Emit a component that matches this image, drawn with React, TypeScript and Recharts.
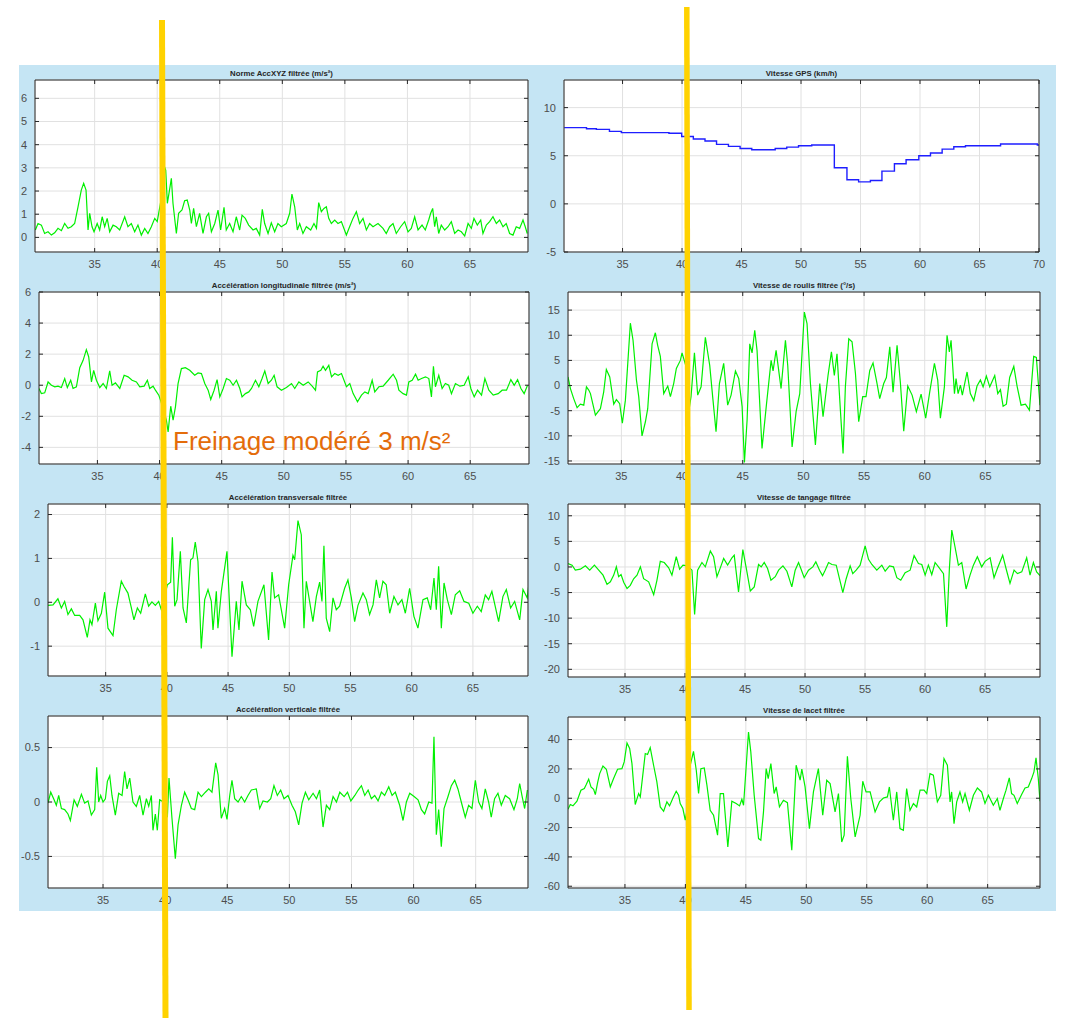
import React from 'react';
import { LineChart, Line, XAxis, YAxis, CartesianGrid } from 'recharts';

type Pt = [number, number];

// ---------- tick labels ----------
const xTicks = [35, 40, 45, 50, 55, 60, 65];
const xTicksGps = [35, 40, 45, 50, 55, 60, 65, 70];
const yTicksNorme = [0, 1, 2, 3, 4, 5, 6];
const yTicksGps = [-5, 0, 5, 10];
const yTicksLong = [-4, -2, 0, 2, 4, 6];
const yTicksRoulis = [-15, -10, -5, 0, 5, 10, 15];
const yTicksTrans = [-1, 0, 1, 2];
const yTicksTangage = [-20, -15, -10, -5, 0, 5, 10];
const yTicksVert = [-0.5, 0, 0.5];
const yTicksLacet = [-60, -40, -20, 0, 20, 40];

// ---------- series (time s, value) ----------
const normeAcc: Pt[] = [
  [30.26, 0.32], [30.47, 0.6], [30.74, 0.53], [31.0, 0.17], [31.27, 0.24], [31.54, 0.1], [31.8, 0.2], [32.07, 0.39],
  [32.34, 0.29], [32.6, 0.6], [32.87, 0.39], [33.13, 0.46], [33.4, 0.6], [33.67, 1.32], [33.93, 2.04], [34.12, 2.33],
  [34.31, 2.04], [34.47, 0.32], [34.6, 1.04], [34.79, 0.46], [34.95, 0.24], [35.2, 0.6], [35.4, 0.32], [35.6, 0.89],
  [35.8, 0.46], [36.0, 0.82], [36.2, 0.24], [36.47, 0.53], [36.73, 0.46], [37.0, 0.32], [37.4, 0.89], [37.66, 0.46],
  [37.93, 0.6], [38.2, 0.24], [38.46, 0.53], [38.73, 0.1], [39.0, 0.39], [39.26, 0.17], [39.53, 0.46], [39.8, 0.82],
  [40.0, 0.68], [40.3, 1.6], [40.54, 3.12], [40.68, 2.9], [40.81, 1.47], [40.94, 1.9], [41.13, 2.55], [41.26, 1.47],
  [41.53, 0.17], [41.71, 1.04], [41.98, 1.18], [42.19, 1.58], [42.4, 1.61], [42.6, 1.18], [42.73, 0.6], [42.91, 1.25],
  [43.13, 0.46], [43.39, 1.04], [43.66, 0.17], [43.93, 0.89], [44.11, 1.04], [44.33, 0.24], [44.6, 0.6], [44.86, 1.18],
  [45.07, 0.32], [45.34, 1.3], [45.52, 0.32], [45.79, 0.6], [46.06, 0.24], [46.32, 0.89], [46.59, 0.32], [46.78, 0.96],
  [47.04, 0.82], [47.31, 0.53], [47.66, 0.32], [47.92, 0.39], [48.19, 0.1], [48.4, 1.21], [48.59, 0.6], [48.86, 0.17],
  [49.12, 0.63], [49.39, 0.24], [49.65, 0.6], [49.92, 0.46], [50.32, 0.6], [50.59, 1.04], [50.77, 1.87], [50.99, 1.32],
  [51.2, 0.32], [51.39, 0.6], [51.65, 0.17], [51.92, 0.46], [52.27, 0.32], [52.53, 0.6], [52.73, 0.39], [52.91, 1.5],
  [53.12, 1.11], [53.33, 1.25], [53.52, 1.32], [53.71, 0.82], [53.92, 0.6], [54.19, 0.75], [54.45, 0.6], [54.72, 0.68],
  [55.12, 0.1], [55.38, 0.46], [55.65, 0.82], [55.92, 1.11], [56.18, 0.6], [56.45, 0.82], [56.72, 0.32], [56.98, 0.6],
  [57.25, 0.46], [57.65, 0.6], [58.05, 0.39], [58.31, 0.17], [58.58, 0.46], [58.85, 0.6], [59.11, 0.17], [59.46, 0.46],
  [59.78, 0.68], [60.05, 0.24], [60.31, 0.39], [60.58, 0.89], [60.85, 0.32], [61.17, 0.53], [61.43, 0.32], [61.7, 0.75],
  [61.86, 1.04], [62.02, 1.25], [62.18, 0.46], [62.31, 0.89], [62.5, 0.17], [62.71, 0.53], [62.98, 0.32], [63.25, 0.46],
  [63.51, 0.68], [63.78, 0.17], [64.05, 0.32], [64.31, 0.24], [64.58, 0.06], [64.85, 0.6], [65.11, 0.39], [65.32, 0.82],
  [65.59, 0.53], [65.86, 0.75], [66.04, 0.17], [66.31, 0.53], [66.57, 0.68], [66.84, 0.89], [67.11, 0.6], [67.37, 0.75],
  [67.64, 0.46], [67.9, 0.6], [68.17, 0.17], [68.44, 0.1], [68.7, 0.46], [68.97, 0.39], [69.24, 0.75], [69.42, 0.46],
  [69.58, 0.17],
];

const vitesseGps: Pt[] = [
  [30.1, 7.92], [31.97, 7.81], [32.8, 7.74], [33.9, 7.53], [34.9, 7.4], [38.9, 7.33], [39.97, 7.0], [40.95, 6.74],
  [41.93, 6.53], [42.9, 6.18], [43.9, 5.97], [44.88, 5.76], [45.86, 5.63], [47.83, 5.76], [48.8, 5.9], [49.79, 6.04],
  [50.9, 6.11], [52.8, 3.75], [53.86, 2.5], [54.84, 2.29], [55.83, 2.43], [56.8, 3.4], [57.85, 4.17], [58.83, 4.58],
  [59.9, 5.0], [60.88, 5.28], [61.86, 5.69], [62.84, 5.94], [63.82, 6.04], [66.77, 6.22], [69.86, 6.11], [70.0, 6.11],
];

const accLong: Pt[] = [
  [30.3, -0.21], [30.49, -0.54], [30.76, -0.49], [31.03, 0.21], [31.3, 0], [31.57, -0.1], [31.83, -0.06], [32.1, -0.15],
  [32.37, 0.43], [32.58, -0.15], [32.85, 0.32], [33.04, -0.21], [33.31, -0.1], [33.58, 1.13], [33.85, 1.6], [34.11, 2.29],
  [34.3, 1.82], [34.52, 0.21], [34.7, 0.96], [34.92, 0.32], [35.19, -0.15], [35.46, 0.11], [35.72, -0.21], [35.99, 0.92],
  [36.18, 0], [36.45, 0.15], [36.8, -0.21], [37.15, 0.64], [37.47, 0.54], [37.79, 0.32], [38.14, 0.21], [38.41, -0.1],
  [38.76, -0.06], [39.02, 0.32], [39.21, -0.21], [39.48, -0.06], [39.67, -0.32], [39.94, -0.64], [40.3, -1.5],
  [40.55, -2.25], [40.69, -3.0], [40.9, -1.35], [41.09, -2.25], [41.28, -1.39], [41.49, 0.11], [41.76, 1.07],
  [42.08, 1.13], [42.43, 0.96], [42.83, 0.64], [43.1, 0.79], [43.37, 0.75], [43.64, 0.11], [43.91, -0.32], [44.12, -0.92],
  [44.39, -0.32], [44.63, 0.36], [44.85, -0.75], [45.12, -0.21], [45.38, 0.43], [45.65, 0.32], [45.92, 0], [46.19, 0.32],
  [46.46, -0.21], [46.64, -0.75], [46.91, -0.54], [47.18, -0.43], [47.4, -0.21], [47.72, 0.32], [47.99, -0.1], [48.25, 0.43],
  [48.47, 0.92], [48.74, 0.11], [49.0, 0.32], [49.22, 0.64], [49.46, -0.1], [49.81, -0.32], [50.21, -0.15], [50.62, 0.11],
  [50.88, -0.21], [51.21, 0.21], [51.56, 0], [51.96, 0.21], [52.28, -0.06], [52.55, -0.32], [52.71, 0.86], [52.98, 0.96],
  [53.16, 1.22], [53.35, 0.96], [53.62, 1.28], [53.84, 0.54], [54.1, 0.75], [54.37, 0.64], [54.64, 0.75], [55.04, -0.1],
  [55.31, 0.11], [55.58, -0.54], [55.93, -1.07], [56.25, -0.64], [56.52, -0.43], [56.79, -0.54], [57.11, 0.32], [57.32, -0.43],
  [57.65, -0.1], [57.99, -0.06], [58.4, 0.32], [58.8, 0.71], [59.07, 0.32], [59.26, -0.32], [59.6, -0.54], [59.87, -0.64],
  [60.06, 0.21], [60.33, 0.32], [60.6, 0.71], [60.81, 0.32], [61.08, 0.43], [61.4, 0.54], [61.67, 0.43], [61.88, -0.75],
  [62.04, 1.22], [62.2, -0.1], [62.47, 0.64], [62.74, -0.21], [63.0, 0.11], [63.27, 0], [63.49, -0.54], [63.81, 0.11],
  [64.17, -0.06], [64.51, 0], [64.84, 0.54], [65.05, -0.21], [65.32, -0.75], [65.59, -0.32], [65.91, -0.64], [66.18, 0.43],
  [66.5, -0.32], [66.85, -0.64], [67.25, -0.54], [67.57, -0.32], [67.92, -0.32], [68.27, 0.36], [68.54, 0], [68.81, 0.36],
  [69.08, -0.21], [69.34, -0.54], [69.61, 0],
];

const roulis: Pt[] = [
  [30.6, 1.7], [30.8, -0.6], [31.07, -2.6], [31.35, -4.4], [31.62, -3.7], [31.9, -3.9], [32.12, -0.26], [32.31, -0.9],
  [32.45, -1.6], [32.86, -5.9], [33.27, -4.6], [33.54, -1.3], [33.76, 3.2], [34.04, 1.7], [34.37, -3.7], [34.59, -2.8],
  [34.86, -3.6], [35.08, -7.5], [35.33, -2.9], [35.74, 12.4], [35.96, 9.0], [36.24, 1.1], [36.43, -2.2], [36.7, -10.0],
  [36.98, -7.2], [37.17, -4.6], [37.53, 8.3], [37.8, 10.5], [37.99, 8.0], [38.21, 5.8], [38.49, -1.6], [38.82, -0.1],
  [39.04, -2.2], [39.31, 0.4], [39.53, 3.4], [39.86, 5.0], [40.0, 6.5], [40.3, 4.0], [40.5, -6.0], [40.74, -2.2],
  [41.02, 6.5], [41.29, -1.9], [41.57, -0.26], [41.92, 9.6], [42.28, 4.0], [42.55, -2.9], [42.8, -9.2], [43.08, 0.4],
  [43.43, 4.4], [43.76, -3.9], [44.04, -1.9], [44.4, 2.9], [44.67, 1.4], [44.95, -4.2], [45.14, -15.3], [45.36, -6.9],
  [45.58, 8.3], [45.77, 6.5], [45.99, 11.0], [46.18, 7.0], [46.59, -12.5], [46.95, -3.9], [47.34, 5.0], [47.5, 2.9],
  [47.75, 7.0], [48.16, -0.6], [48.52, 9.0], [48.71, 4.0], [49.07, -12.2], [49.4, -5.2], [49.7, -1.6], [50.08, 14.6],
  [50.3, 12.3], [50.58, 0.4], [50.99, -11.8], [51.35, 0.4], [51.62, -6.2], [52.03, 2.0], [52.31, 6.7], [52.55, 2.0],
  [52.77, 6.3], [53.05, -4.9], [53.27, -13.5], [53.46, -0.26], [53.74, 9.3], [54.01, 8.7], [54.29, 2.4], [54.56, -7.2],
  [54.89, -2.2], [55.16, -2.2], [55.47, 3.0], [55.74, 4.5], [56.07, 0.4], [56.29, -2.6], [56.62, 0.4], [56.84, 1.6],
  [57.12, 7.7], [57.39, -1.3], [57.72, 8.0], [57.99, 0.7], [58.27, -9.1], [58.6, -0.1], [58.96, -1.9], [59.31, -5.2],
  [59.7, -1.7], [60.08, -6.5], [60.41, -1.3], [60.8, 4.4], [61.07, 1.1], [61.29, -6.5], [61.62, -0.26], [61.84, 10.0],
  [62.03, 6.7], [62.17, 9.0], [62.45, -1.6], [62.58, 1.4], [62.75, -1.6], [62.94, 0.07], [63.1, -1.9], [63.49, 2.7],
  [63.76, -1.6], [64.04, -3.0], [64.31, -0.1], [64.59, 1.1], [64.81, -0.26], [65.08, 1.9], [65.36, -0.26], [65.77, 2.0],
  [66.02, -1.6], [66.24, -0.8], [66.46, -4.1], [66.73, -3.7], [67.0, 1.6], [67.34, 3.8], [67.61, -0.1], [67.94, -3.9],
  [68.3, -3.7], [68.63, -4.9], [68.98, 5.8], [69.2, 5.6], [69.5, -3.9],
];

const accTrans: Pt[] = [
  [30.29, -0.07], [30.7, -0.06], [31.1, 0.08], [31.38, -0.13], [31.65, 0.02], [31.92, -0.28], [32.2, -0.15], [32.47, -0.3],
  [32.88, -0.3], [33.15, -0.4], [33.5, -0.8], [33.72, -0.4], [33.88, -0.51], [34.16, -0.02], [34.37, -0.42], [34.65, -0.25],
  [34.92, 0.23], [35.19, -0.59], [35.6, -0.76], [35.87, -0.17], [36.28, 0.48], [36.5, 0.36], [36.82, 0.21], [37.1, -0.13],
  [37.31, -0.4], [37.59, -0.13], [37.86, -0.25], [38.24, 0.19], [38.51, -0.09], [38.78, 0.01], [39.06, -0.07], [39.33, 0.02],
  [39.55, -0.17], [39.8, 0.1], [40.04, 0.4], [40.31, 0.46], [40.45, 1.48], [40.64, -0.09], [40.83, 0.06], [41.1, 1.16],
  [41.32, -0.13], [41.59, -0.47], [41.94, 0.97], [42.13, 1.01], [42.32, 1.37], [42.54, 0.93], [42.81, -1.05], [43.09, 0.06],
  [43.36, 0.29], [43.63, 0.02], [43.77, -0.63], [44.04, 0.25], [44.17, -0.59], [44.45, 0.25], [44.91, 1.16], [45.32, -1.24],
  [45.67, 0.02], [45.89, -0.63], [46.14, 0.48], [46.49, -0.06], [46.82, -0.17], [47.09, -0.55], [47.44, 0.02], [47.93, 0.4],
  [48.31, -0.86], [48.59, 0.69], [48.8, 0.1], [49.13, 0.17], [49.62, -0.59], [49.95, 0.4], [50.3, 1.07], [50.44, 0.97],
  [50.71, 1.86], [50.98, 1.54], [51.2, -0.59], [51.39, 0.48], [51.66, 0.02], [51.93, -0.44], [52.21, 0.13], [52.48, 0.46],
  [52.67, 0.02], [52.83, 1.29], [53.02, -0.36], [53.3, -0.67], [53.57, 0.1], [53.84, -0.17], [54.11, -0.09], [54.52, 0.32],
  [54.79, 0.51], [55.07, 0.1], [55.34, -0.44], [55.61, -0.07], [56.02, 0.21], [56.29, 0.06], [56.56, -0.28], [56.84, -0.06],
  [57.11, 0.51], [57.38, 0.1], [57.65, 0.48], [57.92, 0.4], [58.2, -0.25], [58.55, 0.13], [58.88, -0.06], [59.2, 0.06],
  [59.48, -0.25], [59.83, 0.32], [60.18, -0.32], [60.51, -0.59], [60.92, 0.06], [61.27, 0.1], [61.55, -0.17], [61.82, 0.55],
  [62.01, -0.17], [62.2, 0.82], [62.42, -0.59], [62.64, 0.44], [62.91, 0.06], [63.24, -0.28], [63.56, 0.17], [63.92, 0.26],
  [64.27, 0.02], [64.66, -0.02], [65.0, -0.25], [65.36, -0.09], [65.68, -0.21], [66.01, 0.17], [66.28, 0.06], [66.55, 0.25],
  [67.1, -0.44], [67.45, 0.13], [67.73, 0.29], [68.08, -0.13], [68.41, 0.02], [68.82, -0.4], [69.09, 0.29], [69.44, 0.1],
  [69.55, 0.36],
];

const tangage: Pt[] = [
  [30.25, 0.67], [30.59, 0.35], [30.86, -0.63], [31.28, -0.44], [31.7, 0.22], [32.06, -0.63], [32.45, 0.35], [32.81, -0.63],
  [33.17, -1.6], [33.5, -3.4], [33.78, -2.9], [34.06, -1.6], [34.28, 0.02], [34.47, -1.9], [34.67, -1.5], [34.89, -3.0],
  [35.17, -4.2], [35.44, -3.6], [35.72, -2.3], [36.0, -1.6], [36.28, 0.02], [36.55, -2.3], [36.97, -2.9], [37.39, -5.4],
  [37.66, -2.6], [37.94, 1.1], [38.27, 0.87], [38.64, -0.18], [38.91, -1.6], [39.27, 2.0], [39.55, -0.44], [39.83, 0.35],
  [40.2, 0.2], [40.58, -0.63], [40.8, -9.3], [41.05, -0.63], [41.41, 0.87], [41.69, 0.02], [42.11, 3.1], [42.38, 2.0],
  [42.66, -1.9], [42.94, -0.18], [43.22, 1.65], [43.55, 0.35], [43.91, 1.8], [44.1, 2.3], [44.46, -4.9], [44.82, 3.4],
  [45.16, -0.96], [45.44, -4.7], [45.77, -3.9], [46.13, 0.48], [46.35, 0.02], [46.6, 0.87], [46.88, -0.3], [47.16, -2.6],
  [47.52, -1.9], [47.8, -0.63], [48.16, 0.22], [48.49, -0.83], [48.9, -3.9], [49.18, -0.63], [49.46, 0.87], [49.65, -0.3],
  [49.93, -2.1], [50.29, -0.63], [50.65, 0.02], [50.9, 1.0], [51.21, -0.63], [51.46, -1.7], [51.68, -0.63], [51.96, 0.87],
  [52.24, 0.48], [52.6, 0.35], [52.87, -2.3], [53.15, -5.0], [53.43, -2.3], [53.76, 0.22], [53.98, -1.3], [54.26, -0.63],
  [54.59, 0.35], [55.01, 4.1], [55.29, 1.5], [55.57, 0.48], [55.98, -0.63], [56.4, 0.35], [56.68, -0.83], [57.04, 0.22],
  [57.37, 0.02], [57.65, -2.1], [57.98, -2.6], [58.34, -1.1], [58.76, -0.63], [59.09, 2.2], [59.45, 0.67], [59.73, 0.48],
  [60.01, -1.6], [60.28, 0.35], [60.56, -1.5], [60.84, 0.87], [61.12, 0.02], [61.54, -1.3], [61.81, -11.7], [62.03, -0.3],
  [62.23, 7.2], [62.5, 3.9], [62.78, 0.35], [63.06, 0.87], [63.42, -4.3], [63.75, -1.6], [64.03, 0.35], [64.36, 2.0],
  [64.72, 0.02], [65.0, 1.1], [65.42, 1.8], [65.75, -2.1], [66.03, -0.3], [66.47, 2.3], [66.75, -0.3], [67.08, -3.2],
  [67.42, -0.63], [67.7, -1.3], [68.06, -0.96], [68.47, 1.8], [68.75, -1.6], [69.03, 0.87], [69.3, -0.96], [69.58, -1.7],
];

const accVert: Pt[] = [
  [30.57, -0.01], [30.79, 0.09], [31.06, 0.02], [31.24, -0.03], [31.43, 0.06], [31.65, -0.06], [31.91, -0.07], [32.18, -0.11],
  [32.37, -0.17], [32.67, 0.02], [32.93, -0.04], [33.26, 0.07], [33.52, -0.01], [33.79, 0.01], [34.06, -0.12], [34.33, -0.07],
  [34.49, 0.32], [34.65, 0], [34.81, 0.06], [35.0, 0], [35.19, 0.03], [35.35, 0.19], [35.54, 0.24], [35.72, 0.06],
  [35.99, -0.12], [36.26, 0.08], [36.53, 0.06], [36.74, 0.28], [36.93, 0.12], [37.15, 0.22], [37.41, 0], [37.68, -0.04],
  [37.95, 0.06], [38.22, -0.12], [38.49, 0.03], [38.68, -0.04], [38.89, 0.06], [39.02, -0.26], [39.21, -0.11], [39.37, -0.26],
  [39.56, 0.02], [39.85, 0.0], [40.18, -0.14], [40.31, 0.22], [40.55, -0.15], [40.82, -0.52], [41.04, -0.21], [41.31, -0.03],
  [41.57, 0.09], [41.84, 0.02], [42.11, -0.06], [42.38, -0.07], [42.65, 0.09], [42.92, 0.05], [43.24, 0.09], [43.51, 0.12],
  [43.77, 0.09], [44.07, 0.36], [44.26, 0.25], [44.52, -0.15], [44.79, -0.06], [44.98, -0.16], [45.2, 0.06], [45.38, 0.2],
  [45.6, 0.03], [45.87, 0], [46.13, 0.05], [46.4, 0], [46.67, 0.06], [46.94, 0.11], [47.34, 0.12], [47.61, -0.06],
  [47.88, 0.01], [48.23, 0], [48.5, 0.03], [48.76, 0.15], [49.03, 0.06], [49.3, 0.11], [49.57, 0.03], [49.89, 0.06],
  [50.21, -0.03], [50.48, -0.09], [50.75, -0.21], [51.02, -0.01], [51.29, 0.09], [51.56, 0.02], [51.91, 0.08], [52.18, 0.03],
  [52.44, 0.11], [52.71, -0.23], [52.98, -0.03], [53.25, -0.07], [53.52, 0.05], [53.79, 0], [54.06, 0.09], [54.41, 0.05],
  [54.68, 0.09], [54.95, 0.01], [55.27, 0.06], [55.54, 0.11], [55.8, 0.15], [56.07, 0.06], [56.34, 0.11], [56.6, 0.03],
  [56.87, 0.06], [57.14, 0.01], [57.41, 0.09], [57.67, 0.06], [58.0, 0.14], [58.27, 0.06], [58.53, 0.09], [58.88, -0.03],
  [59.15, -0.17], [59.42, 0], [59.69, 0.08], [60.04, 0.05], [60.36, 0.02], [60.63, -0.07], [60.89, -0.11], [61.22, 0],
  [61.48, -0.01], [61.64, 0.6], [61.83, -0.3], [62.02, -0.07], [62.23, -0.41], [62.45, -0.06], [62.77, 0.05], [63.04, 0.15],
  [63.31, 0.2], [63.57, 0.12], [63.84, 0], [64.16, -0.14], [64.43, -0.03], [64.7, -0.06], [64.97, 0.2], [65.24, 0],
  [65.5, -0.06], [65.77, 0.12], [66.04, 0], [66.25, -0.14], [66.52, 0.03], [66.79, 0.08], [67.06, -0.03], [67.38, 0.06],
  [67.73, 0.03], [68.08, -0.07], [68.35, 0.03], [68.54, 0.17], [68.72, 0.06], [68.94, -0.06], [69.16, 0.11],
];

const lacet: Pt[] = [
  [30.29, -7.5], [30.48, -4.3], [30.7, -5.2], [31.03, -2.0], [31.36, 5.5], [31.64, 6.6], [31.8, 9.3], [32.0, 13.0],
  [32.19, 7.7], [32.41, 6.1], [32.55, 2.5], [32.74, 10.7], [32.91, 16.8], [33.18, 22.0], [33.46, 19.8], [33.79, 7.7],
  [34.06, 13.4], [34.39, 19.8], [34.75, 20.2], [34.94, 24.8], [35.17, 37.7], [35.39, 33.9], [35.58, 23.6], [35.85, -4.3],
  [36.13, 3.2], [36.27, 0.9], [36.68, 30.5], [36.87, 29.8], [37.09, 34.5], [37.37, 22.5], [37.64, 11.1], [37.92, -5.9],
  [38.2, -8.9], [38.47, -2.5], [38.69, -5.2], [38.97, 0.2], [39.24, 4.8], [39.44, 2.0], [39.57, -3.6], [39.79, -7.0],
  [39.99, -15.0], [40.2, -5.0], [40.4, 22.5], [40.67, 32.0], [40.9, 19.1], [41.09, 3.2], [41.28, 20.2], [41.56, 20.7],
  [41.78, 8.9], [42.05, -8.2], [42.33, -11.6], [42.66, -25.2], [42.88, 3.2], [43.15, 3.2], [43.51, -33.2], [43.84, -2.0],
  [44.2, -3.6], [44.48, -5.2], [44.67, -0.7], [44.81, -4.8], [45.22, 45.2], [45.41, 31.6], [45.69, 2.0], [46.05, -27.5],
  [46.24, -28.6], [46.46, -9.3], [46.68, 20.2], [46.85, 13.4], [47.07, 23.6], [47.34, 3.2], [47.51, 7.7], [47.78, -5.9],
  [48.11, -1.4], [48.44, -3.0], [48.8, -35.5], [49.16, 22.5], [49.49, 12.3], [49.63, 19.8], [49.9, 7.7], [50.26, -20.7],
  [50.59, 4.3], [51.0, 20.2], [51.36, -11.6], [51.69, 12.3], [51.97, 10.0], [52.38, -9.3], [52.66, 3.2], [52.93, -29.8],
  [53.13, -25.2], [53.4, 28.6], [53.68, -0.2], [54.04, -26.4], [54.45, -11.6], [54.67, 11.6], [54.94, 4.3], [55.28, 4.3],
  [55.69, -9.3], [56.05, -2.5], [56.38, 0.2], [56.71, 0.9], [56.87, 7.7], [57.2, -15.0], [57.48, 4.3], [57.75, -20.7],
  [58.03, -21.8], [58.3, 6.6], [58.58, -8.2], [58.86, -3.6], [59.13, -5.9], [59.41, 5.5], [59.74, 5.5], [59.96, 3.2],
  [60.23, 16.8], [60.51, 15.7], [60.84, -2.5], [61.12, 2.0], [61.39, 27.0], [61.67, 22.5], [61.89, -2.5], [62.02, 4.3],
  [62.22, -17.3], [62.44, -2.5], [62.71, 4.3], [62.93, -2.5], [63.13, 3.2], [63.49, -8.2], [63.82, 2.0], [64.15, 7.0],
  [64.5, 4.3], [64.78, -3.6], [65.06, 2.0], [65.47, -4.8], [65.8, -0.2], [66.02, -8.2], [66.3, -0.2], [66.52, 5.5],
  [66.79, 13.9], [66.98, 3.2], [67.18, 2.0], [67.45, -3.6], [67.81, 2.5], [68.09, 7.0], [68.36, 7.7], [68.64, 13.4],
  [68.83, 18.0], [69.0, 27.5], [69.19, 13.4], [69.33, -2.0], [69.47, 13.4],
];

// ---------- styles ----------
const GREEN = '#00F000';
const BLUE = '#1E1EFF';
const FRAME = '#262626';
const GRID = '#E1E1E1';
const LABEL = '#4D4D4D';
const Y_W = 45;
const TOP = 12;
const X_H = 26;
const RIGHT = 14;

type PanelCfg = {
  title: string;
  pts: Pt[];
  left: number;
  top: number;
  w: number;
  h: number;
  xDomain: [number, number];
  xTicks: number[];
  yDomain: [number, number];
  yTicks: number[];
  color: string;
  step?: boolean;
};

const panels: PanelCfg[] = [
  { title: 'Norme AccXYZ filtrée (m/s²)', pts: normeAcc, left: 35, top: 80, w: 493, h: 172, xDomain: [30.23, 69.64], xTicks, yDomain: [-0.63, 6.79], yTicks: yTicksNorme, color: GREEN },
  { title: 'Vitesse GPS (km/h)', pts: vitesseGps, left: 564, top: 80, w: 475, h: 172, xDomain: [30.08, 70], xTicks: xTicksGps, yDomain: [-5, 12.87], yTicks: yTicksGps, color: BLUE, step: true },
  { title: 'Accélération longitudinale filtrée (m/s²)', pts: accLong, left: 39, top: 292, w: 490, h: 172, xDomain: [30.3, 69.73], xTicks, yDomain: [-5.07, 6], yTicks: yTicksLong, color: GREEN },
  { title: 'Vitesse de roulis filtrée (°/s)', pts: roulis, left: 568, top: 292, w: 472, h: 172, xDomain: [30.6, 69.5], xTicks, yDomain: [-15.6, 18.6], yTicks: yTicksRoulis, color: GREEN },
  { title: 'Accélération transversale filtrée', pts: accTrans, left: 48, top: 504, w: 480, h: 172, xDomain: [30.29, 69.5], xTicks, yDomain: [-1.68, 2.24], yTicks: yTicksTrans, color: GREEN },
  { title: 'Vitesse de tangage filtrée', pts: tangage, left: 568, top: 504, w: 472, h: 173, xDomain: [30.25, 69.58], xTicks, yDomain: [-21.5, 12.3], yTicks: yTicksTangage, color: GREEN },
  { title: 'Accélération verticale filtrée', pts: accVert, left: 48, top: 716, w: 480, h: 172, xDomain: [30.57, 69.21], xTicks, yDomain: [-0.79, 0.79], yTicks: yTicksVert, color: GREEN },
  { title: 'Vitesse de lacet filtrée', pts: lacet, left: 568, top: 717, w: 472, h: 171, xDomain: [30.29, 69.33], xTicks, yDomain: [-61.2, 55.4], yTicks: yTicksLacet, color: GREEN },
];

const blank = () => '';

function Panel({ p }: { p: PanelCfg }) {
  const data = p.pts.map(([t, v]) => ({ t, v }));
  const W = p.w + Y_W + RIGHT;
  const H = p.h + TOP + X_H;
  const tickFont = { fill: LABEL, fontSize: 11, fontFamily: 'Arial, "Liberation Sans", sans-serif' };
  return (
    <div style={{ position: 'absolute', left: p.left - Y_W, top: p.top - TOP, width: W, height: H }}>
      <div
        style={{
          position: 'absolute', left: Y_W, top: 0, width: p.w, height: TOP, lineHeight: '11px', textAlign: 'center',
          fontFamily: 'Arial, "Liberation Sans", sans-serif', fontWeight: 'bold', fontSize: 7.8, color: '#262626', whiteSpace: 'nowrap',
        }}
      >
        {p.title}
      </div>
      <LineChart width={W} height={H} data={data} margin={{ top: TOP, right: RIGHT, bottom: 0, left: 0 }}>
        <CartesianGrid xAxisId="b" yAxisId="l" stroke={GRID} fill="#FFFFFF" fillOpacity={1} />
        <XAxis xAxisId="b" type="number" dataKey="t" domain={p.xDomain} ticks={p.xTicks} allowDataOverflow interval={0}
          height={X_H} tickLine={false} axisLine={{ stroke: FRAME }} tick={tickFont} />
        <XAxis xAxisId="bi" type="number" dataKey="t" domain={p.xDomain} ticks={p.xTicks} allowDataOverflow interval={0}
          mirror tickSize={4} tickLine={{ stroke: FRAME }} axisLine={false} tickFormatter={blank} />
        <XAxis xAxisId="ti" orientation="top" type="number" dataKey="t" domain={p.xDomain} ticks={p.xTicks} allowDataOverflow interval={0}
          mirror tickSize={4} tickLine={{ stroke: FRAME }} axisLine={{ stroke: FRAME }} tickFormatter={blank} />
        <YAxis yAxisId="l" type="number" domain={p.yDomain} ticks={p.yTicks} allowDataOverflow interval={0}
          width={Y_W} tickLine={false} axisLine={{ stroke: FRAME }} tick={tickFont} />
        <YAxis yAxisId="li" type="number" domain={p.yDomain} ticks={p.yTicks} allowDataOverflow interval={0}
          mirror tickSize={4} tickLine={{ stroke: FRAME }} axisLine={false} tickFormatter={blank} />
        <YAxis yAxisId="ri" orientation="right" type="number" domain={p.yDomain} ticks={p.yTicks} allowDataOverflow interval={0}
          mirror tickSize={4} tickLine={{ stroke: FRAME }} axisLine={{ stroke: FRAME }} tickFormatter={blank} />
        <Line xAxisId="b" yAxisId="l" type={p.step ? 'stepAfter' : 'linear'} dataKey="v" stroke={p.color}
          strokeWidth={p.step ? 1.4 : 1.2} dot={false} activeDot={false} isAnimationActive={false} />
      </LineChart>
    </div>
  );
}

export default function App() {
  return (
    <div style={{ position: 'absolute', left: 0, top: 0, width: 1066, height: 1020, background: '#FFFFFF', overflow: 'hidden' }}>
      <div style={{ position: 'absolute', left: 19, top: 65, width: 1037, height: 846, background: '#C5E5F4' }} />
      {panels.map((p) => (
        <Panel key={p.title} p={p} />
      ))}
      <svg width={1066} height={1020} style={{ position: 'absolute', left: 0, top: 0, pointerEvents: 'none' }}>
        <line x1={162} y1={20} x2={165.5} y2={1018} stroke="#FFD200" strokeWidth={6} />
        <line x1={686.8} y1={7} x2={689} y2={1010} stroke="#FFD200" strokeWidth={5.5} />
      </svg>
      <div
        style={{
          position: 'absolute', left: 173, top: 428, lineHeight: '26px', fontSize: 26,
          fontFamily: 'Arial, "Liberation Sans", sans-serif', color: '#E46C0A', whiteSpace: 'nowrap',
        }}
      >
        Freinage modéré 3 m/s²
      </div>
    </div>
  );
}
